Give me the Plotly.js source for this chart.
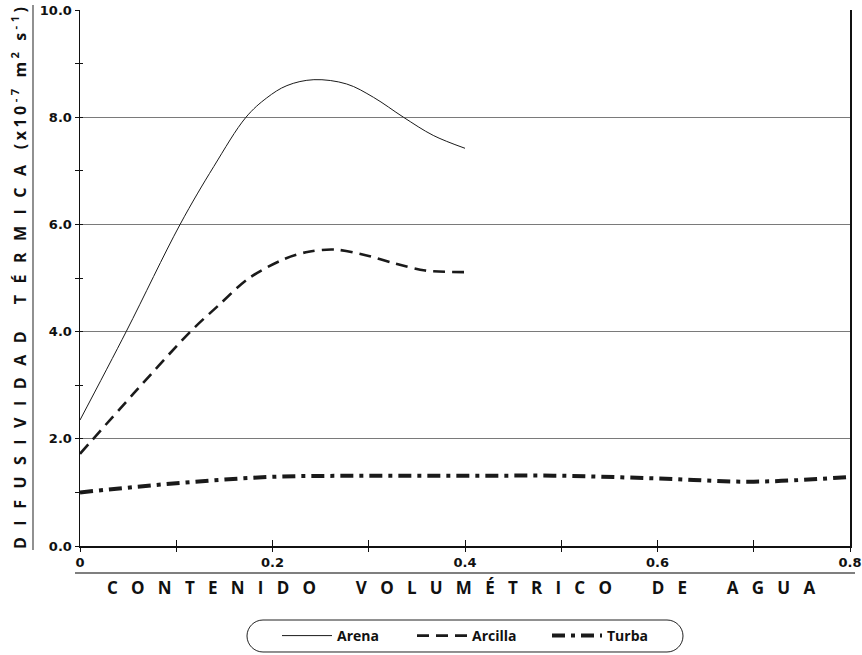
<!DOCTYPE html>
<html>
<head>
<meta charset="utf-8">
<script src="https://cdn.plot.ly/plotly-3.0.1.min.js"></script>
<style>html,body{margin:0;padding:0;background:#fff;}#chart{width:862px;height:655px;}</style>
</head>
<body>
<div id="chart"></div>
<script>
// ---- data ----
const arenaX = [0, 0.048, 0.104, 0.139, 0.1725, 0.194, 0.215, 0.243, 0.277, 0.305, 0.336, 0.367, 0.4];
const arenaY = [2.35, 4.0, 6.0, 7.08, 8.0, 8.36, 8.59, 8.70, 8.62, 8.37, 8.0, 7.66, 7.42];
const arcillaX = [0, 0.056, 0.1147, 0.144, 0.175, 0.213, 0.2375, 0.265, 0.30, 0.3275, 0.3586, 0.4035];
const arcillaY = [1.72, 2.85, 4.0, 4.49, 4.99, 5.36, 5.49, 5.53, 5.41, 5.27, 5.14, 5.11];
const turbaX = [0, 0.1, 0.2, 0.3, 0.4, 0.5, 0.6, 0.7, 0.8];
const turbaY = [1.0, 1.17, 1.29, 1.31, 1.31, 1.31, 1.26, 1.2, 1.29];
const seriesNames = ['Arena', 'Arcilla', 'Turba'];
const xTitle = 'CONTENIDO VOLUMÉTRICO DE AGUA';
const yTitleWords = 'DIFUSIVIDAD TÉRMICA';

// ---- helpers ----
const FONT = 'Open Sans, Noto Sans, sans-serif';
const TICKFONT = 'DejaVu Sans, sans-serif';
const W = 862, H = 655, M = {l: 80, r: 12, t: 10, b: 109};
const PW = W - M.l - M.r, PH = H - M.t - M.b;
const px = X => (X - M.l) / PW;
const py = Y => (H - M.b - Y) / PH;
const NB = '\u00A0';
function spaced(str, gap, wordGap) {
  return str.split(' ').map(w => w.split('').join(NB.repeat(gap))).join(NB.repeat(wordGap));
}
function pillPath(x0, y0, x1, y1, r) {
  const p = (X, Y) => px(X).toFixed(5) + ',' + py(Y).toFixed(5);
  const k = 0.55, ym = (y0 + y1) / 2, h = (y1 - y0) / 2;
  return 'M' + p(x0 + r, y0) + ' L' + p(x1 - r, y0) +
    ' C' + p(x1 - r + r * k, y0) + ' ' + p(x1, ym - h * k) + ' ' + p(x1, ym) +
    ' C' + p(x1, ym + h * k) + ' ' + p(x1 - r + r * k, y1) + ' ' + p(x1 - r, y1) +
    ' L' + p(x0 + r, y1) +
    ' C' + p(x0 + r - r * k, y1) + ' ' + p(x0, ym + h * k) + ' ' + p(x0, ym) +
    ' C' + p(x0, ym - h * k) + ' ' + p(x0 + r - r * k, y0) + ' ' + p(x0 + r, y0) + ' Z';
}

const traces = [
  {x: arenaX, y: arenaY, name: seriesNames[0], mode: 'lines',
   line: {color: '#1a1a1a', width: 1, shape: 'spline', smoothing: 1}},
  {x: arcillaX, y: arcillaY, name: seriesNames[1], mode: 'lines',
   line: {color: '#1a1a1a', width: 2.6, dash: '12px,7px', shape: 'spline', smoothing: 0.9}},
  {x: turbaX, y: turbaY, name: seriesNames[2], mode: 'lines',
   line: {color: '#1a1a1a', width: 4, dash: '13px,6px,4px,6px', shape: 'spline', smoothing: 1}},
  {x: [0], y: [0], xaxis: 'x2', yaxis: 'y2', mode: 'markers', marker: {opacity: 0},
   showlegend: false, hoverinfo: 'skip'}
];

const yTitle = '<span style="letter-spacing:11.5px">' + yTitleWords + '</span>' + NB +
  '<span style="letter-spacing:3.5px">(x10<sup>-7</sup>' + NB + 'm<sup>2</sup>' + NB + 's<sup>-1</sup>)</span>';

const layout = {
  width: W, height: H,
  margin: M,
  paper_bgcolor: '#fff', plot_bgcolor: '#fff',
  font: {family: FONT, color: '#111', weight: 'bold'},
  showlegend: true,
  legend: {orientation: 'h', x: px(277), xanchor: 'left', xref: 'paper',
    yref: 'container', y: (H - 636) / H, yanchor: 'middle',
    font: {family: FONT, size: 14, color: '#111', weight: 'bold'}, bgcolor: 'rgba(0,0,0,0)',
    entrywidth: 70, itemwidth: 50},
  xaxis: {range: [0, 0.8], dtick: 0.2, tick0: 0, ticks: 'outside', ticklen: 4, tickcolor: '#111',
    minor: {dtick: 0.1, ticks: 'outside', ticklen: 4, tickcolor: '#111', showgrid: false},
    showgrid: false, zeroline: false, showline: true, linecolor: '#111', linewidth: 1.5,
    tickfont: {family: TICKFONT, size: 13, color: '#111', weight: 'bold'}, fixedrange: true},
  yaxis: {range: [0, 10], dtick: 2, tick0: 0, tickformat: '.1f', ticks: 'outside', ticklen: 4, tickcolor: '#111',
    minor: {dtick: 1, ticks: 'outside', ticklen: 4, tickcolor: '#111', showgrid: false},
    showgrid: true, gridcolor: '#7a7a7a', gridwidth: 1.4, zeroline: false,
    showline: true, linecolor: '#111', linewidth: 1.5, mirror: true,
    tickfont: {family: TICKFONT, size: 13, color: '#111', weight: 'bold'}, fixedrange: true},
  xaxis2: {overlaying: 'x', range: [0, 0.8], dtick: 0.1, ticks: 'inside', ticklen: 6, tickcolor: '#111',
    showticklabels: false, showgrid: false, zeroline: false, showline: false, side: 'bottom'},
  yaxis2: {overlaying: 'y', range: [0, 10], dtick: 1, ticks: 'inside', ticklen: 3, tickcolor: '#111',
    showticklabels: false, showgrid: false, zeroline: false, showline: false, side: 'left'},
  annotations: [
    {text: spaced(xTitle, 3, 9), xref: 'paper', yref: 'paper', x: px(461), y: py(587),
     xanchor: 'center', yanchor: 'middle', showarrow: false,
     font: {family: FONT, size: 17, color: '#111', weight: 'bold'}},
    {text: yTitle, xref: 'paper', yref: 'paper', x: px(19), y: py(276), textangle: -90,
     xanchor: 'center', yanchor: 'middle', showarrow: false,
     font: {family: FONT, size: 16, color: '#111', weight: 'bold'}}
  ],
  shapes: [
    {type: 'line', xref: 'paper', yref: 'paper', x0: px(33), x1: px(33), y0: py(5), y1: py(550),
     line: {color: '#555', width: 1.3}},
    {type: 'line', xref: 'paper', yref: 'paper', x0: px(75), x1: px(855), y0: py(573), y1: py(573),
     line: {color: '#555', width: 1.3}},
    {type: 'path', xref: 'paper', yref: 'paper', path: pillPath(247, 620, 683, 652, 16),
     line: {color: '#222', width: 1}}
  ]
};

Plotly.newPlot('chart', traces, layout, {displayModeBar: false, staticPlot: true});
</script>
</body>
</html>
